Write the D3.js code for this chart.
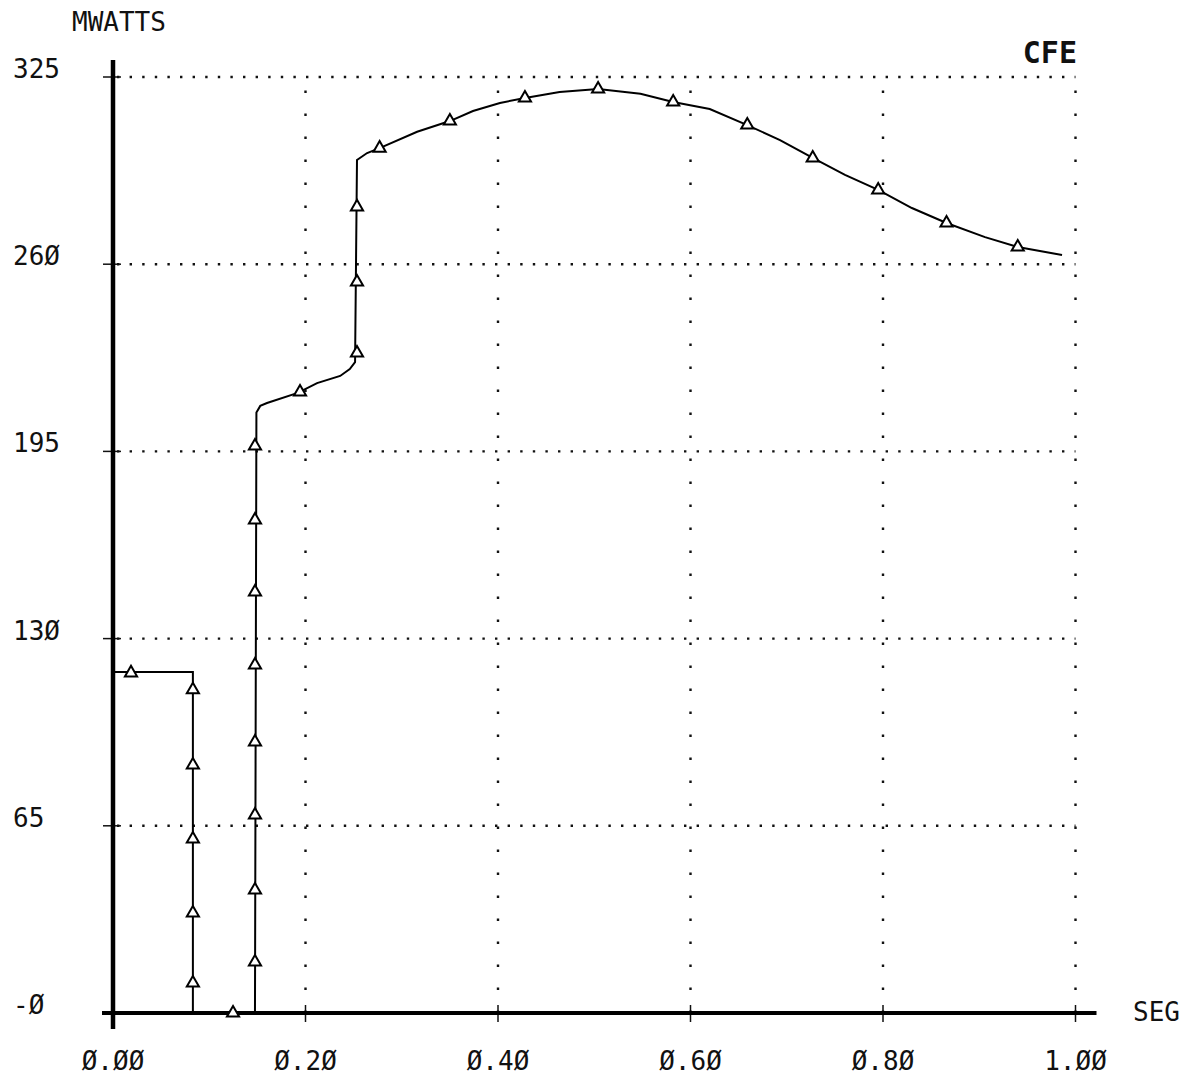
<!DOCTYPE html>
<html lang="en">
<head>
  <meta charset="UTF-8">
  <title>MWATTS vs SEG - CFE</title>
  <script src="https://d3js.org/d3.v7.min.js"></script>
  <style>
    body { margin: 0; background: #fff; }
    svg { display: block; background: #fff; }
    .lbl { font-family: 'DejaVu Sans Mono', monospace; font-size: 26px; fill: #111; }
    .title { font-family: 'DejaVu Sans Mono', monospace; font-size: 30px; font-weight: bold; fill: #111; }
  </style>
</head>
<body>
  <svg width="1186" height="1077"></svg>

  <script>
    // time (s) and power (MW) along the traced curve
    const curveSeg = [0, 0.083, 0.083, 0.1475, 0.149, 0.153, 0.160, 0.192, 0.212, 0.236, 0.246, 0.2515,
      0.2535, 0.264, 0.277, 0.316, 0.350, 0.374, 0.402, 0.428, 0.464, 0.504, 0.548, 0.582, 0.620, 0.659,
      0.693, 0.727, 0.7605, 0.795, 0.830, 0.866, 0.906, 0.940, 0.986];
    const curveMw = [118.4, 118.4, 0, 0, 208.5, 210.8, 211.8, 215.3, 218.7, 221.2, 223.6, 226,
      296.2, 298.6, 300.3, 306.0, 309.7, 313.2, 316, 317.7, 319.8, 320.8, 319.2, 316.3, 313.9, 308.3,
      303.1, 296.9, 291, 285.8, 279.5, 274.3, 269.4, 266.0, 263.2];

    // triangle markers
    const markSeg = [0.0187, 0.083, 0.083, 0.083, 0.083, 0.083, 0.1247,
      0.1475, 0.1475, 0.1475, 0.1475, 0.1475, 0.1475, 0.1475, 0.1475,
      0.1943, 0.2535, 0.2535, 0.2535, 0.277, 0.350, 0.428, 0.504, 0.582,
      0.659, 0.727, 0.795, 0.866, 0.940];
    const markMw = [118.1, 112.2, 86.1, 60.4, 34.7, 10.4, 0,
      196.9, 171.2, 146.2, 120.8, 94.1, 68.75, 42.7, 17.7,
      215.6, 229.2, 253.8, 279.9, 300.3, 309.7, 317.7, 320.8, 316.3,
      308.3, 296.9, 285.8, 274.3, 266.0];

    const xTicks = [0, 0.2, 0.4, 0.6, 0.8, 1.0];
    const xTickLabels = ["Ø.ØØ", "Ø.2Ø", "Ø.4Ø", "Ø.6Ø", "Ø.8Ø", "1.ØØ"];
    const yTicks = [0, 65, 130, 195, 260, 325];
    const yTickLabels = ["-Ø", "65", "13Ø", "195", "26Ø", "325"];

    const svg = d3.select("svg");
    const x = d3.scaleLinear().domain([0, 1]).range([113, 1075.5]);
    const y = d3.scaleLinear().domain([0, 325]).range([1013, 77]);

    // dotted grid
    svg.append("g").selectAll("line")
      .data(yTicks.slice(1))
      .enter().append("line")
        .attr("x1", x(0) + 4).attr("x2", x(1))
        .attr("y1", d => y(d)).attr("y2", d => y(d))
        .attr("stroke", "#111").attr("stroke-width", 2.4)
        .attr("stroke-dasharray", "2.4 10.2");

    svg.append("g").selectAll("line")
      .data(xTicks.slice(1))
      .enter().append("line")
        .attr("x1", d => x(d)).attr("x2", d => x(d))
        .attr("y1", y(0)).attr("y2", y(325))
        .attr("stroke", "#111").attr("stroke-width", 2.4)
        .attr("stroke-dasharray", "2.4 20.6");

    // tick crosses
    svg.append("g").selectAll("line")
      .data(xTicks)
      .enter().append("line")
        .attr("x1", d => x(d)).attr("x2", d => x(d))
        .attr("y1", y(0) - 8).attr("y2", y(0) + 9)
        .attr("stroke", "#111").attr("stroke-width", 1.5);

    svg.append("g").selectAll("line")
      .data(yTicks)
      .enter().append("line")
        .attr("x1", x(0) - 10).attr("x2", x(0) + 8)
        .attr("y1", d => y(d)).attr("y2", d => y(d))
        .attr("stroke", "#111").attr("stroke-width", 1.5);

    // heavy axes
    svg.append("line")
      .attr("x1", x(0)).attr("x2", x(0))
      .attr("y1", y(325) - 17).attr("y2", y(0) + 16)
      .attr("stroke", "#000").attr("stroke-width", 4.5);
    svg.append("line")
      .attr("x1", x(0) - 11).attr("x2", x(1) + 21)
      .attr("y1", y(0)).attr("y2", y(0))
      .attr("stroke", "#000").attr("stroke-width", 4);

    // curve
    const pts = curveSeg.map((s, i) => [s, curveMw[i]]);
    const line = d3.line()
      .x(d => x(d[0]))
      .y(d => y(d[1]));

    svg.append("path")
      .datum(pts)
      .attr("d", line)
      .attr("fill", "none")
      .attr("stroke", "#000")
      .attr("stroke-width", 2);

    // markers
    const tri = d3.symbol().type(d3.symbolTriangle).size(64);
    svg.append("g").selectAll("path")
      .data(markSeg.map((s, i) => [s, markMw[i]]))
      .enter().append("path")
        .attr("d", tri)
        .attr("transform", d => `translate(${x(d[0])},${y(d[1])})`)
        .attr("fill", "#fff")
        .attr("stroke", "#000")
        .attr("stroke-width", 2);

    // tick labels
    svg.append("g").selectAll("text")
      .data(xTicks)
      .enter().append("text")
        .attr("class", "lbl")
        .attr("x", d => x(d))
        .attr("y", 1070)
        .attr("text-anchor", "middle")
        .text((d, i) => xTickLabels[i]);

    svg.append("g").selectAll("text")
      .data(yTicks)
      .enter().append("text")
        .attr("class", "lbl")
        .attr("x", 13)
        .attr("y", d => y(d) + 1)
        .text((d, i) => yTickLabels[i]);

    svg.append("text").attr("class", "lbl")
      .attr("x", 72).attr("y", 31)
      .text("MWATTS");

    svg.append("text").attr("class", "lbl")
      .attr("x", 1133).attr("y", 1021)
      .text("SEG");

    svg.append("text").attr("class", "title")
      .attr("x", 1077).attr("y", 63)
      .attr("text-anchor", "end")
      .text("CFE");
  </script>
</body>
</html>
